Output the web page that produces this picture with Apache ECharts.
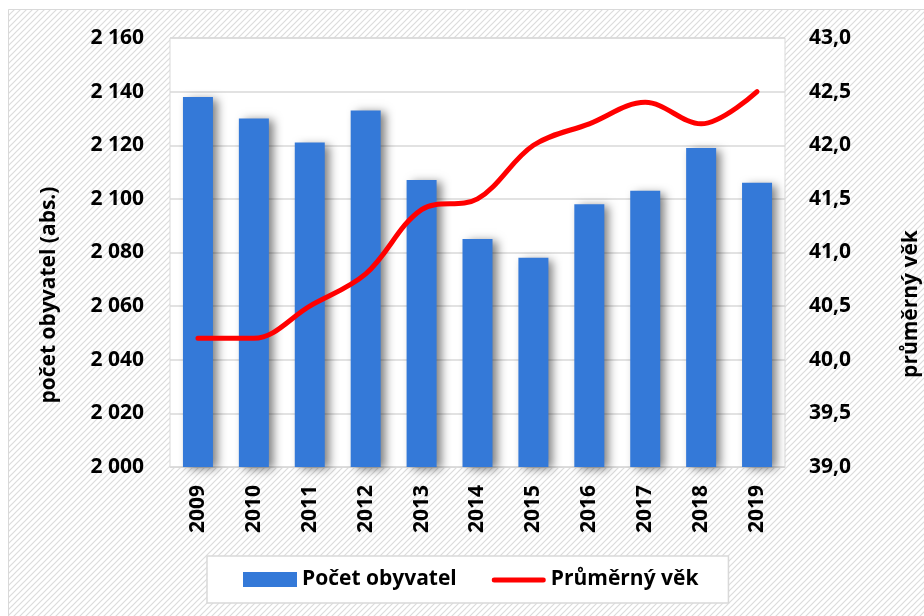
<!DOCTYPE html>
<html>
<head>
<meta charset="utf-8">
<script src="https://cdn.jsdelivr.net/npm/echarts@6/dist/echarts.min.js"></script>
<style>
html,body{margin:0;padding:0;background:#fff;}
#chart{width:924px;height:616px;}
</style>
</head>
<body>
<div id="chart"></div>
<script>
const years = ['2009','2010','2011','2012','2013','2014','2015','2016','2017','2018','2019'];
const populationValues = [2138, 2130, 2121, 2133, 2107, 2085, 2078, 2098, 2103, 2119, 2106];
const averageAgeValues = [40.2, 40.2, 40.5, 40.8, 41.4, 41.5, 42.0, 42.2, 42.4, 42.2, 42.5];
const leftTicks = {min: 2000, max: 2160, interval: 20};
const rightTicks = {min: 39, max: 43, interval: 0.5};
const seriesNames = ['Počet obyvatel', 'Průměrný věk'];
const axisTitles = ['počet obyvatel (abs.)', 'průměrný věk'];

const FONT = "'Open Sans', 'Noto Sans', sans-serif";
const W = 'bold';

// hatch pattern
const tile = document.createElement('canvas');
tile.width = 6; tile.height = 6;
const tc = tile.getContext('2d');
tc.fillStyle = '#ffffff';
tc.fillRect(0,0,6,6);
tc.strokeStyle = '#dcdcdc';
tc.lineWidth = 1.2;
tc.beginPath();
tc.moveTo(-1,7); tc.lineTo(7,-1);
tc.moveTo(-4,4); tc.lineTo(4,-4);
tc.moveTo(2,10); tc.lineTo(10,2);
tc.stroke();

const chart = echarts.init(document.getElementById('chart'), null, {renderer:'canvas'});
const option = {
  backgroundColor: '#ffffff',
  animation: false,
  textStyle: {fontFamily: FONT},
  graphic: [
    {type:'rect', z:-10, silent:true, shape:{x:8.5, y:9.5, width:1000, height:1000},
     style:{fill:{image: tile, repeat:'repeat'}, stroke:'#d9d9d9', lineWidth:1}},
    {type:'text', z:10, x:49, y:295, rotation: Math.PI/2,
     style:{text: axisTitles[0], font: W + " 21px " + FONT, fill:'#000', textAlign:'center', textVerticalAlign:'middle'}},
    {type:'text', z:10, x:911, y:304, rotation: Math.PI/2,
     style:{text: axisTitles[1], font: W + " 21px " + FONT, fill:'#000', textAlign:'center', textVerticalAlign:'middle'}}
  ],
  grid: {left:170, right:139, top:38, bottom:149, show:true, backgroundColor:'#ffffff', borderColor:'#d9d9d9', borderWidth:1},
  legend: {
    left: 207, top: 556,
    padding: [13, 30, 13, 36],
    backgroundColor: '#ffffff', borderColor: '#d9d9d9', borderWidth: 1.5,
    itemWidth: 54, itemHeight: 15, itemGap: 35,
    textStyle: {fontSize: 21, fontWeight: W, color:'#000', fontFamily: FONT},
    data: [
      {name: seriesNames[0], icon: 'rect'},
      {name: seriesNames[1], icon: 'path://M0,0 L0.01,0 Z M2.5,5.5 L51.5,5.5 A2.5,2.5 0 0 1 51.5,10.5 L2.5,10.5 A2.5,2.5 0 0 1 2.5,5.5 Z M0,15 L0.01,15 Z M54,0 L54.01,0 Z'}
    ]
  },
  xAxis: {
    type: 'category', data: years,
    axisLine: {show:true, lineStyle:{color:'#d9d9d9'}},
    axisTick: {show:false},
    axisLabel: {rotate: 90, fontSize: 21, fontWeight: W, color:'#000', margin: 18, fontFamily: FONT}
  },
  yAxis: [
    {type:'value', min:leftTicks.min, max:leftTicks.max, interval:leftTicks.interval,
     axisLine:{show:false}, axisTick:{show:false},
     splitLine:{lineStyle:{color:'#d9d9d9', width:1.5}},
     axisLabel:{fontSize:21, fontWeight: W, color:'#000', margin:26, fontFamily: FONT,
       formatter: v => { const s = String(v); return s.length > 3 ? s.slice(0, s.length-3) + ' ' + s.slice(-3) : s; }}},
    {type:'value', min:rightTicks.min, max:rightTicks.max, interval:rightTicks.interval,
     axisLine:{show:false}, axisTick:{show:false}, splitLine:{show:false},
     axisLabel:{fontSize:21, fontWeight: W, color:'#000', margin:24, fontFamily: FONT,
       formatter: v => v.toFixed(1).replace('.', ',')}}
  ],
  series: [
    {name: seriesNames[0], type:'bar', yAxisIndex:0, data: populationValues, barWidth: 30,
     itemStyle:{color:'#3479d8', shadowColor:'rgba(0,0,0,0.5)', shadowBlur:9, shadowOffsetX:5, shadowOffsetY:2}},
    {name: seriesNames[1], type:'line', yAxisIndex:1, data: averageAgeValues, smooth: 0.35,
     symbol:'none', z: 5,
     lineStyle:{color:'#ff0000', width:5, cap:'round'}, itemStyle:{color:'#ff0000'}}
  ]
};
chart.setOption(option);
</script>
</body>
</html>
